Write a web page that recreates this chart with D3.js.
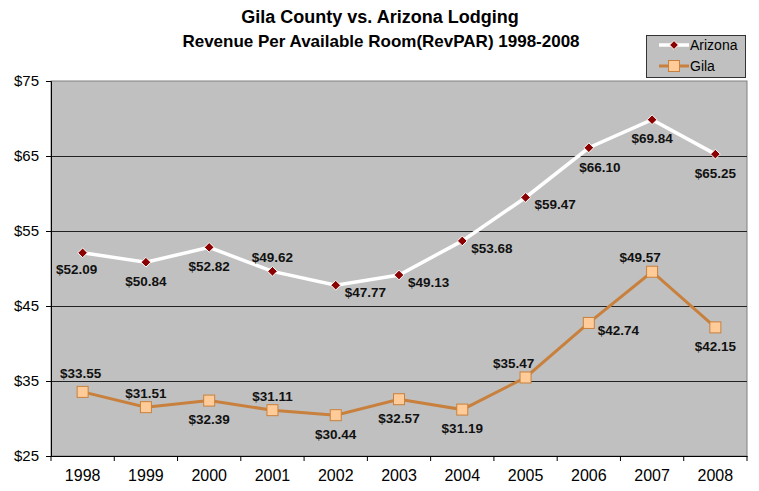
<!DOCTYPE html>
<html>
<head>
<meta charset="utf-8">
<script src="https://cdn.jsdelivr.net/npm/d3@7"></script>
<style>
  body { margin: 0; background: #fff; }
  svg { font-family: Arial, "Liberation Sans", sans-serif; }
</style>
</head>
<body>
<svg width="759" height="491"></svg>
<script>
var years = ["1998", "1999", "2000", "2001", "2002", "2003", "2004", "2005", "2006", "2007", "2008"];
var arizona = [52.09, 50.84, 52.82, 49.62, 47.77, 49.13, 53.68, 59.47, 66.10, 69.84, 65.25];
var gila = [33.55, 31.51, 32.39, 31.11, 30.44, 32.57, 31.19, 35.47, 42.74, 49.57, 42.15];
var yTicks = [25, 35, 45, 55, 65, 75];

// where each data label sits relative to its point
var arizonaPlace = ["belowLeft", "below", "below", "above", "right", "right", "right", "right", "belowRight", "below", "below"];
var gilaPlace = ["aboveHigh", "above", "below", "above", "below", "below", "below", "aboveLeft", "right", "aboveLeft", "below"];

var svg = d3.select("svg");
var margin = { left: 51, top: 81, right: 747, bottom: 456 };

var x = d3.scaleBand().domain(years).range([margin.left, margin.right]);
var y = d3.scaleLinear().domain([25, 75]).range([margin.bottom, margin.top]);
function cx(d) { return x(d) + x.bandwidth() / 2; }

// plot background
svg.append("rect")
    .attr("x", margin.left).attr("y", margin.top)
    .attr("width", margin.right - margin.left)
    .attr("height", margin.bottom - margin.top)
    .attr("fill", "#c0c0c0")
    .attr("stroke", "#808080");

// grid lines
svg.append("g").selectAll("line")
    .data(yTicks.slice(1, -1))
    .enter().append("line")
    .attr("x1", margin.left).attr("x2", margin.right)
    .attr("y1", function(d) { return y(d) + 0.5; })
    .attr("y2", function(d) { return y(d) + 0.5; })
    .attr("stroke", "#222");

// y axis
var yAxis = svg.append("g")
    .attr("transform", "translate(" + margin.left + ",0)")
    .call(d3.axisLeft(y).tickValues(yTicks).tickFormat(function(d) { return "$" + d; }).tickSize(5).tickPadding(7));
yAxis.select(".domain").attr("stroke", "#000");
yAxis.selectAll("text").attr("font-size", 15).attr("fill", "#000");

// x axis, ticks between categories
var xAxis = svg.append("g")
    .attr("transform", "translate(0," + margin.bottom + ")")
    .call(d3.axisBottom(x).tickSize(0).tickPadding(14));
xAxis.select(".domain").attr("stroke", "#000");
xAxis.selectAll("text").attr("font-size", 16).attr("fill", "#000");
xAxis.selectAll(".sep")
    .data(d3.range(years.length + 1))
    .enter().append("line")
    .attr("x1", function(i) { return margin.left + i * x.bandwidth(); })
    .attr("x2", function(i) { return margin.left + i * x.bandwidth(); })
    .attr("y1", 0).attr("y2", 5)
    .attr("stroke", "#000");

var line = d3.line()
    .x(function(d, i) { return cx(years[i]); })
    .y(function(d) { return y(d); });

function offset(p) {
    switch (p) {
        case "above": return { dx: 0, dy: -14, anchor: "middle" };
        case "aboveHigh": return { dx: -2, dy: -19, anchor: "middle" };
        case "aboveLeft": return { dx: -12, dy: -14, anchor: "middle" };
        case "below": return { dx: 0, dy: 19, anchor: "middle" };
        case "belowLeft": return { dx: -6, dy: 16, anchor: "middle" };
        case "belowRight": return { dx: 11, dy: 20, anchor: "middle" };
        case "right": return { dx: 9, dy: 7, anchor: "start" };
    }
}

function labels(values, places) {
    svg.append("g").selectAll("text")
        .data(values)
        .enter().append("text")
        .attr("x", function(d, i) { return cx(years[i]) + offset(places[i]).dx; })
        .attr("y", function(d, i) { return y(d) + offset(places[i]).dy; })
        .attr("text-anchor", function(d, i) { return offset(places[i]).anchor; })
        .attr("dy", "0.35em")
        .attr("font-size", 13.5)
        .attr("font-weight", "bold")
        .attr("fill", "#111")
        .text(function(d) { return "$" + d.toFixed(2); });
}

// Arizona
svg.append("path")
    .datum(arizona)
    .attr("d", line)
    .attr("fill", "none")
    .attr("stroke", "#fff")
    .attr("stroke-width", 3.5);
svg.append("g").selectAll("path")
    .data(arizona)
    .enter().append("path")
    .attr("d", d3.symbol().type(d3.symbolDiamond2).size(60))
    .attr("transform", function(d, i) { return "translate(" + cx(years[i]) + "," + y(d) + ")"; })
    .attr("fill", "#8b0000")
    .attr("stroke", "#fff")
    .attr("stroke-width", 1);

// Gila
var gilaColor = "#c8803c";
svg.append("path")
    .datum(gila)
    .attr("d", line)
    .attr("fill", "none")
    .attr("stroke", gilaColor)
    .attr("stroke-width", 3);
svg.append("g").selectAll("rect")
    .data(gila)
    .enter().append("rect")
    .attr("x", function(d, i) { return cx(years[i]) - 5.5; })
    .attr("y", function(d) { return y(d) - 5.5; })
    .attr("width", 11).attr("height", 11)
    .attr("fill", "#ffcc99")
    .attr("stroke", gilaColor)
    .attr("stroke-width", 1);

labels(arizona, arizonaPlace);
labels(gila, gilaPlace);

// titles
svg.append("text")
    .attr("x", 380).attr("y", 23)
    .attr("text-anchor", "middle")
    .attr("font-size", 18).attr("font-weight", "bold")
    .text("Gila County vs. Arizona Lodging");
svg.append("text")
    .attr("x", 381).attr("y", 47)
    .attr("text-anchor", "middle")
    .attr("font-size", 17).attr("font-weight", "bold")
    .text("Revenue Per Available Room(RevPAR) 1998-2008");

// legend
var legend = svg.append("g");
legend.append("rect")
    .attr("x", 646.5).attr("y", 35.5)
    .attr("width", 99).attr("height", 42)
    .attr("fill", "#c0c0c0")
    .attr("stroke", "#333");
var legItems = [
    { name: "Arizona", color: "#fff", width: 3.5, y: 45 },
    { name: "Gila", color: gilaColor, width: 3, y: 66 }
];
legItems.forEach(function(it, k) {
    legend.append("line")
        .attr("x1", 659).attr("x2", 689)
        .attr("y1", it.y).attr("y2", it.y)
        .attr("stroke", it.color).attr("stroke-width", it.width);
    if (k === 0) {
        legend.append("path")
            .attr("d", d3.symbol().type(d3.symbolDiamond2).size(50))
            .attr("transform", "translate(674," + it.y + ")")
            .attr("fill", "#8b0000").attr("stroke", "#fff");
    } else {
        legend.append("rect")
            .attr("x", 668.5).attr("y", it.y - 5.5)
            .attr("width", 11).attr("height", 11)
            .attr("fill", "#ffcc99").attr("stroke", gilaColor);
    }
    legend.append("text")
        .attr("x", 690).attr("y", it.y)
        .attr("dy", "0.35em")
        .attr("font-size", 14)
        .text(it.name);
});
</script>
</body>
</html>
